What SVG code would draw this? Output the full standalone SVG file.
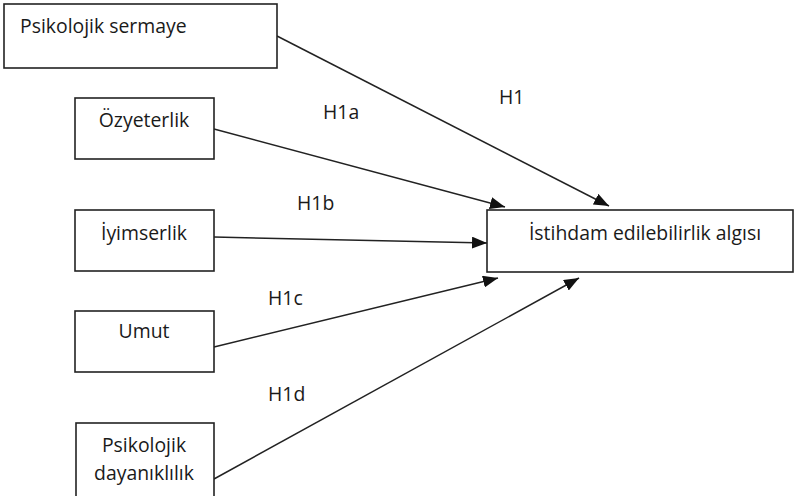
<svg xmlns="http://www.w3.org/2000/svg" width="794" height="496" viewBox="0 0 794 496">
<style>
.box{fill:#fff;stroke:#222;stroke-width:1.6}
.t{font-family:"Open Sans","Liberation Sans",sans-serif;font-size:19.4px;fill:#1a1a1a}
.c{text-anchor:middle}
.e{stroke:#222;stroke-width:1.5;fill:none;marker-end:url(#ah)}
</style>
<defs>
<marker id="ah" markerUnits="userSpaceOnUse" markerWidth="16" markerHeight="12" refX="15" refY="6" orient="auto">
<path d="M0,0 L15,6 L0,12 Z" fill="#111"/>
</marker>
</defs>
<rect width="794" height="496" fill="#fff"/>
<g id="edges">
<line class="e" x1="277" y1="36" x2="609" y2="206"/>
<line class="e" x1="214" y1="129" x2="505" y2="207"/>
<line class="e" x1="214" y1="237" x2="487" y2="243"/>
<line class="e" x1="214" y1="347" x2="498" y2="278"/>
<line class="e" x1="214" y1="479" x2="579" y2="278"/>
</g>
<g id="labels">
<text class="t" x="499" y="104">H1</text>
<text class="t" x="323" y="119">H1a</text>
<text class="t" x="297" y="210">H1b</text>
<text class="t" x="268" y="305">H1c</text>
<text class="t" x="268" y="401">H1d</text>
</g>
<g id="n-sermaye">
<rect class="box" x="4" y="4" width="273" height="64"/>
<text class="t" x="20" y="33">Psikolojik sermaye</text>
</g>
<g id="n-ozyeterlik">
<rect class="box" x="75" y="98" width="139" height="61"/>
<text class="t c" x="144" y="127">Özyeterlik</text>
</g>
<g id="n-iyimserlik">
<rect class="box" x="75" y="210" width="139" height="61"/>
<text class="t c" x="144" y="240">İyimserlik</text>
</g>
<g id="n-umut">
<rect class="box" x="75" y="311" width="139" height="61"/>
<text class="t c" x="144" y="338">Umut</text>
</g>
<g id="n-dayaniklilik">
<rect class="box" x="76" y="423" width="138" height="80"/>
<text class="t c" x="144" y="452">Psikolojik</text>
<text class="t c" x="144" y="480">dayanıklılık</text>
</g>
<g id="n-istihdam">
<rect class="box" x="487" y="210" width="306" height="62"/>
<text class="t c" x="645" y="240">İstihdam edilebilirlik algısı</text>
</g>
</svg>
